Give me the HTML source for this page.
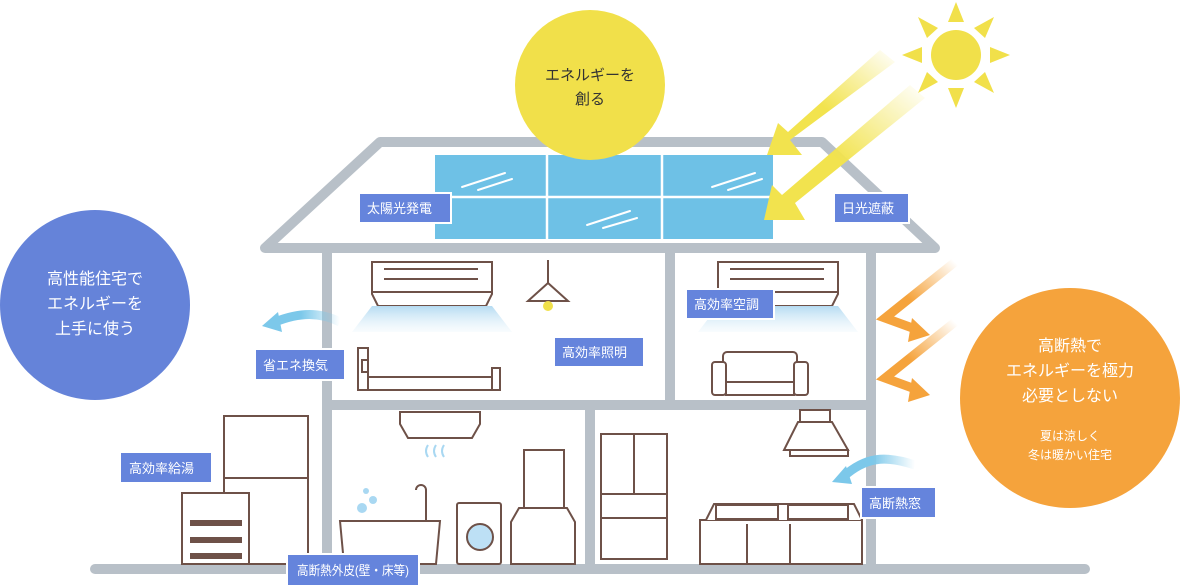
<!DOCTYPE html>
<html><head><meta charset="utf-8"><style>
html,body{margin:0;padding:0;background:#fff;}
svg{display:block;font-family:"Liberation Sans","Noto Sans CJK JP",sans-serif;}
</style></head><body>
<svg width="1180" height="587" viewBox="0 0 1180 587" xmlns="http://www.w3.org/2000/svg">
<defs>
<linearGradient id="ya" x1="1" y1="0" x2="0" y2="1"><stop offset="0" stop-color="#f2e34e" stop-opacity="0"/><stop offset="0.55" stop-color="#f2e34e"/></linearGradient>
<linearGradient id="oa" x1="1" y1="0" x2="0" y2="1"><stop offset="0" stop-color="#f5a33c" stop-opacity="0"/><stop offset="0.6" stop-color="#f5a33c"/></linearGradient>
<linearGradient id="ac" x1="0" y1="0" x2="0" y2="1"><stop offset="0" stop-color="#b5dbf2"/><stop offset="1" stop-color="#e8f4fb" stop-opacity="0.3"/></linearGradient>
<linearGradient id="bl" x1="1" y1="0" x2="0" y2="0"><stop offset="0" stop-color="#7cc8ea" stop-opacity="0"/><stop offset="0.6" stop-color="#7cc8ea"/></linearGradient>
</defs>
<g stroke="#b8c0c8" stroke-width="10" fill="none" stroke-linejoin="round" stroke-linecap="round">
<polygon points="380,142 822,142 935,248 265,248"/>
<line x1="327" y1="250" x2="327" y2="565"/>
<line x1="871" y1="250" x2="871" y2="565"/>
<line x1="327" y1="405" x2="871" y2="405"/>
<line x1="670" y1="250" x2="670" y2="400"/>
<line x1="590" y1="405" x2="590" y2="565"/>
<line x1="95" y1="569" x2="1085" y2="569"/>
</g>
<rect x="435" y="155" width="338" height="84" fill="#6ec1e6"/>
<g stroke="#fff" stroke-width="2.5"><line x1="547" y1="155" x2="547" y2="239"/><line x1="662" y1="155" x2="662" y2="239"/><line x1="435" y1="197" x2="773" y2="197"/></g>
<g stroke="#fff" stroke-width="2" stroke-linecap="round"><line x1="462" y1="187" x2="505" y2="173"/><line x1="478" y1="190" x2="512" y2="179"/><line x1="712" y1="187" x2="755" y2="173"/><line x1="728" y1="190" x2="762" y2="179"/><line x1="587" y1="225" x2="630" y2="211"/><line x1="603" y1="228" x2="637" y2="218"/></g>
<circle cx="590" cy="85" r="75" fill="#f1e04a"/>
<text x="590" y="80" font-size="15" fill="#333" text-anchor="middle">エネルギーを</text>
<text x="590" y="104" font-size="15" fill="#333" text-anchor="middle">創る</text>
<circle cx="956" cy="55" r="25" fill="#f1e04a"/>
<g fill="#f1e04a">
<polygon points="956,2 948,22 964,22"/><polygon points="956,108 948,88 964,88"/>
<polygon points="902,55 922,47 922,63"/><polygon points="1010,55 990,47 990,63"/>
<polygon points="918,17 938,28 927,38"/><polygon points="994,17 974,28 985,38"/>
<polygon points="918,93 938,82 927,72"/><polygon points="994,93 974,82 985,72"/>
</g>
<polygon points="880,50 895,62 790,140 802,155 767,155 778,123 788,132" fill="url(#ya)"/>
<polygon points="910,85 925,98 795,203 805,220 764,220 772,185 782,195" fill="url(#ya)"/>
<g fill="none" stroke="url(#oa)" stroke-width="9" stroke-linejoin="miter"><polyline points="955,262 885,318 918,330"/><polyline points="955,322 885,378 918,390"/></g>
<polygon points="912,318 930,335 908,342" fill="#f5a33c"/>
<polygon points="912,378 930,395 908,402" fill="#f5a33c"/>
<circle cx="95" cy="305" r="95" fill="#6583d9"/>
<g font-size="16" fill="#fff" text-anchor="middle"><text x="95" y="284">高性能住宅で</text><text x="95" y="309">エネルギーを</text><text x="95" y="334">上手に使う</text></g>
<circle cx="1070" cy="398" r="110" fill="#f5a33c"/>
<g fill="#fff" text-anchor="middle"><text x="1070" y="351" font-size="16">高断熱で</text><text x="1070" y="376" font-size="16">エネルギーを極力</text><text x="1070" y="401" font-size="16">必要としない</text><text x="1070" y="440" font-size="12">夏は涼しく</text><text x="1070" y="459" font-size="12">冬は暖かい住宅</text></g>
<g stroke="#6e5148" stroke-width="2" fill="#fff">
<path d="M372,262 h120 v32 l-6,12 h-108 l-6,-12 z"/>
<line x1="384" y1="269" x2="478" y2="269"/><line x1="384" y1="279" x2="478" y2="279"/><line x1="372" y1="292" x2="492" y2="292"/>
<path d="M718,262 h120 v32 l-6,12 h-108 l-6,-12 z"/>
<line x1="730" y1="269" x2="824" y2="269"/><line x1="730" y1="279" x2="824" y2="279"/><line x1="718" y1="292" x2="838" y2="292"/>
<line x1="548" y1="260" x2="548" y2="283"/><polygon points="548,283 528,301 568,301"/>
<rect x="358" y="348" width="10" height="42"/><rect x="362" y="360" width="6" height="12"/><rect x="368" y="377" width="126" height="13"/><rect x="492" y="368" width="8" height="22"/>
<rect x="723" y="352" width="74" height="30" rx="4"/><rect x="712" y="362" width="14" height="33" rx="3"/><rect x="794" y="362" width="14" height="33" rx="3"/><rect x="726" y="382" width="68" height="13"/>
<rect x="224" y="416" width="84" height="148"/><line x1="224" y1="478" x2="308" y2="478"/>
<rect x="182" y="493" width="67" height="71"/>
<path d="M400,412 h80 v12 l-8,14 h-64 l-8,-14 z"/>
<path d="M340,521 h100 l-4,43 h-92 z"/><path d="M426,520 v-30 a5,5 0 0 0 -10,0"/>
<rect x="457" y="503" width="44" height="61" rx="2"/><circle cx="480" cy="537" r="13" fill="#bde0f5"/>
<rect x="524" y="450" width="40" height="58"/><path d="M511,522 l8,-14 h48 l8,14 v42 h-64 z"/>
<rect x="601" y="434" width="66" height="125"/><line x1="634" y1="434" x2="634" y2="494"/><line x1="601" y1="494" x2="667" y2="494"/><line x1="601" y1="518" x2="667" y2="518"/>
<rect x="800" y="410" width="30" height="12"/><path d="M798,422 h34 l16,28 h-64 z"/><rect x="790" y="450" width="58" height="6"/>
<rect x="700" y="520" width="162" height="44"/><path d="M706,520 l8,-16 h140 l8,16"/><rect x="716" y="505" width="62" height="14"/><rect x="788" y="505" width="60" height="14"/>
<line x1="747" y1="524" x2="747" y2="564"/><line x1="790" y1="524" x2="790" y2="564"/>
</g>
<g fill="#6e5148"><rect x="190" y="520" width="52" height="6"/><rect x="190" y="537" width="52" height="6"/><rect x="190" y="553" width="52" height="6"/></g>
<g fill="#a9d8f2"><circle cx="362" cy="508" r="5"/><circle cx="373" cy="500" r="4"/><circle cx="366" cy="491" r="3"/></g>
<g stroke="#a9d8f2" stroke-width="2" fill="none"><path d="M428,445 q-4,6 0,12"/><path d="M436,445 q-4,6 0,12"/><path d="M444,445 q-4,6 0,12"/></g>
<polygon points="372,306 492,306 512,332 352,332" fill="url(#ac)"/>
<polygon points="718,306 838,306 858,332 698,332" fill="url(#ac)"/>
<circle cx="548" cy="306" r="5" fill="#f1e04a"/>
<path d="M340,322 c-20,-10 -40,-10 -65,0" stroke="url(#bl)" stroke-width="9" fill="none"/>
<polygon points="262,326 278,312 282,332" fill="#7cc8ea"/>
<path d="M915,465 c-30,-10 -50,-8 -72,12" stroke="url(#bl)" stroke-width="9" fill="none"/>
<polygon points="832,482 846,466 852,484" fill="#7cc8ea"/>
<g font-size="13" fill="#fff">
<rect x="359" y="193" width="92" height="30" fill="#6584dc" stroke="#fff" stroke-width="2"/><text x="367" y="213">太陽光発電</text>
<rect x="834" y="193" width="75" height="30" fill="#6584dc" stroke="#fff" stroke-width="2"/><text x="842" y="213">日光遮蔽</text>
<rect x="686" y="289" width="88" height="30" fill="#6584dc" stroke="#fff" stroke-width="2"/><text x="694" y="309">高効率空調</text>
<rect x="255" y="349" width="90" height="31" fill="#6584dc" stroke="#fff" stroke-width="2"/><text x="263" y="370">省エネ換気</text>
<rect x="554" y="337" width="90" height="30" fill="#6584dc" stroke="#fff" stroke-width="2"/><text x="562" y="357">高効率照明</text>
<rect x="120" y="452" width="92" height="31" fill="#6584dc" stroke="#fff" stroke-width="2"/><text x="129" y="473">高効率給湯</text>
<rect x="861" y="487" width="75" height="31" fill="#6584dc" stroke="#fff" stroke-width="2"/><text x="869" y="508">高断熱窓</text>
<rect x="287" y="554" width="132" height="32" fill="#6584dc" stroke="#fff" stroke-width="2"/><text x="297" y="575" textLength="112" lengthAdjust="spacingAndGlyphs">高断熱外皮(壁・床等)</text>
</g>
</svg>
</body></html>
